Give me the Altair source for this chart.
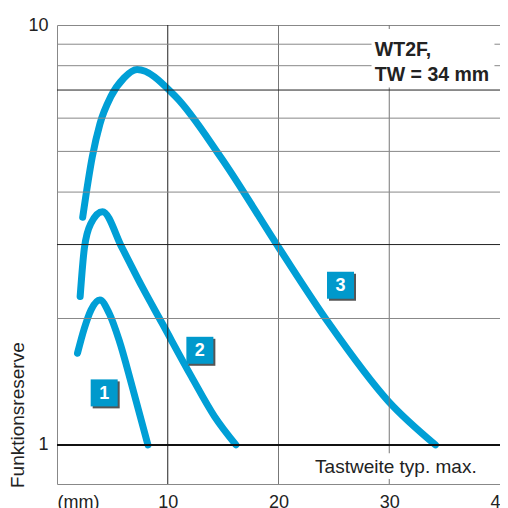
import altair as alt
import pandas as pd

# ---- data ----
c1_x = [1.85, 2.47, 3.07, 3.875, 4.71, 5.6, 6.79, 8.21]
c1_y = [1.653, 1.896, 2.096, 2.214, 2.058, 1.778, 1.377, 1.0]
c2_x = [2.09, 2.47, 3.07, 4.11, 5.89, 7.68, 9.46, 12.14, 14.23, 16.16]
c2_y = [2.255, 2.94, 3.372, 3.593, 2.94, 2.381, 1.956, 1.454, 1.168, 1.0]
c3_x = [2.32, 3.19, 3.875, 4.857, 6.045, 7.232, 10.66, 14.77, 20.06, 24.5, 29.95, 34.17]
c3_y = [3.485, 4.859, 5.812, 6.75, 7.478, 7.834, 6.776, 4.851, 2.94, 1.956, 1.268, 1.0]

label_names = ["1", "2", "3"]
label_x = [4.26, 12.9, 25.6]
label_y = [1.33, 1.68, 2.40]

x_ticks = [0, 10, 20, 30, 40]
y_ticks = [1, 10]
x_grid = [10, 20, 30]
y_grid = [2, 3, 4, 5, 6, 7, 8, 9]

BLUE = "#009fd6"
FONT = "Liberation Sans"

rows = []
for name, xs_, ys_ in [("1", c1_x, c1_y), ("2", c2_x, c2_y), ("3", c3_x, c3_y)]:
    for i, (a, b) in enumerate(zip(xs_, ys_)):
        rows.append({"curve": name, "order": i, "x": a, "y": b})
curves_df = pd.DataFrame(rows)
labels_df = pd.DataFrame({"name": label_names, "x": label_x, "y": label_y})
xgrid_df = pd.DataFrame({"x": x_grid})
ygrid_df = pd.DataFrame({"y": y_grid})
one_df = pd.DataFrame({"y": [1]})

xs = alt.Scale(domain=[0, 40], nice=False, zero=False)
ys = alt.Scale(type="log", domain=[0.807, 10], nice=False)

AX = alt.Axis(
    values=x_ticks, grid=False, ticks=False, domain=False, title=None,
    labelExpr="datum.value == 0 ? '(mm)' : datum.label",
    labelAlign={"condition": {"test": "datum.value == 0", "value": "left"}, "value": "center"},
    labelFontSize=18, labelFont=FONT, labelColor="#222222", labelPadding=9,
)
AY = alt.Axis(
    values=y_ticks, grid=False, ticks=False, domain=False, title=None,
    format="d", labelFontSize=18, labelFont=FONT, labelColor="#222222", labelPadding=9,
)


def X(f):
    return alt.X(f, scale=xs, axis=AX)


def Y(f):
    return alt.Y(f, scale=ys, axis=AY)


xgrid = alt.Chart(xgrid_df).mark_rule(strokeWidth=1).encode(
    x=X("x:Q"),
    color=alt.condition("datum.x == 10", alt.value("#222222"), alt.value("#777777")),
)
ygrid = alt.Chart(ygrid_df).mark_rule(strokeWidth=1).encode(
    y=Y("y:Q"),
    color=alt.condition("datum.y == 3 || datum.y == 7", alt.value("#222222"), alt.value("#888888")),
)
oneline = alt.Chart(one_df).mark_rule(strokeWidth=2, color="#111111").encode(y=Y("y:Q"))

box_note = alt.Chart(one_df).mark_rect(color="white").encode(
    x=alt.datum(28.4, scale=xs, axis=AX), x2=alt.datum(39.5),
    y=alt.datum(9.78, scale=ys, axis=AY), y2=alt.datum(7.1),
)
box_tast = alt.Chart(one_df).mark_rect(color="white").encode(
    x=alt.datum(22.8, scale=xs, axis=AX), x2=alt.datum(38.3),
    y=alt.datum(0.955, scale=ys, axis=AY), y2=alt.datum(0.83),
)

lines = alt.Chart(curves_df).mark_line(
    color=BLUE, strokeWidth=7, strokeCap="round", strokeJoin="round", interpolate="monotone"
).encode(
    x=X("x:Q"), y=Y("y:Q"),
    detail="curve:N",
    order="order:Q",
)

shadow = alt.Chart(labels_df).mark_square(size=729, color="#555555", opacity=1, filled=True,
                                          xOffset=2, yOffset=2, strokeWidth=0).encode(
    x=X("x:Q"), y=Y("y:Q"))
squares = alt.Chart(labels_df).mark_square(size=729, color="#0099cc", opacity=1, filled=True,
                                           strokeWidth=0).encode(
    x=X("x:Q"), y=Y("y:Q"))
digits = alt.Chart(labels_df).mark_text(color="white", fontSize=18, fontWeight="bold",
                                        font=FONT, baseline="middle", dy=1).encode(
    x=X("x:Q"), y=Y("y:Q"), text="name:N")

note1 = alt.Chart(one_df).mark_text(text="WT2F,", align="left", baseline="middle", fontSize=19.5,
                                    fontWeight="bold", font=FONT, color="#222222").encode(
    x=alt.datum(28.7, scale=xs, axis=AX), y=alt.datum(8.7, scale=ys, axis=AY))
note2 = alt.Chart(one_df).mark_text(text="TW = 34 mm", align="left", baseline="middle", fontSize=19.5,
                                    fontWeight="bold", font=FONT, color="#222222").encode(
    x=alt.datum(28.7, scale=xs, axis=AX), y=alt.datum(7.62, scale=ys, axis=AY))
tast = alt.Chart(one_df).mark_text(text="Tastweite typ. max.", align="center", baseline="middle",
                                   fontSize=19, font=FONT, color="#222222").encode(
    x=alt.datum(30.6, scale=xs, axis=AX), y=alt.datum(0.886, scale=ys, axis=AY))
ytitle = alt.Chart(one_df).mark_text(text="Funktionsreserve", align="left", baseline="middle",
                                     angle=270, fontSize=19, font=FONT, color="#222222").encode(
    x=alt.value(-39), y=alt.value(463))

chart = alt.layer(
    lines, xgrid, ygrid, oneline, box_note, box_tast, shadow, squares, digits,
    note1, note2, tast, ytitle
).properties(
    width=443, height=459,
    autosize="none",
    padding={"left": 49, "top": 17, "right": 0, "bottom": 24},
).configure_view(stroke="#888888", strokeWidth=1)

chart.save("out.html", embed_options={"renderer": "svg", "actions": False})
